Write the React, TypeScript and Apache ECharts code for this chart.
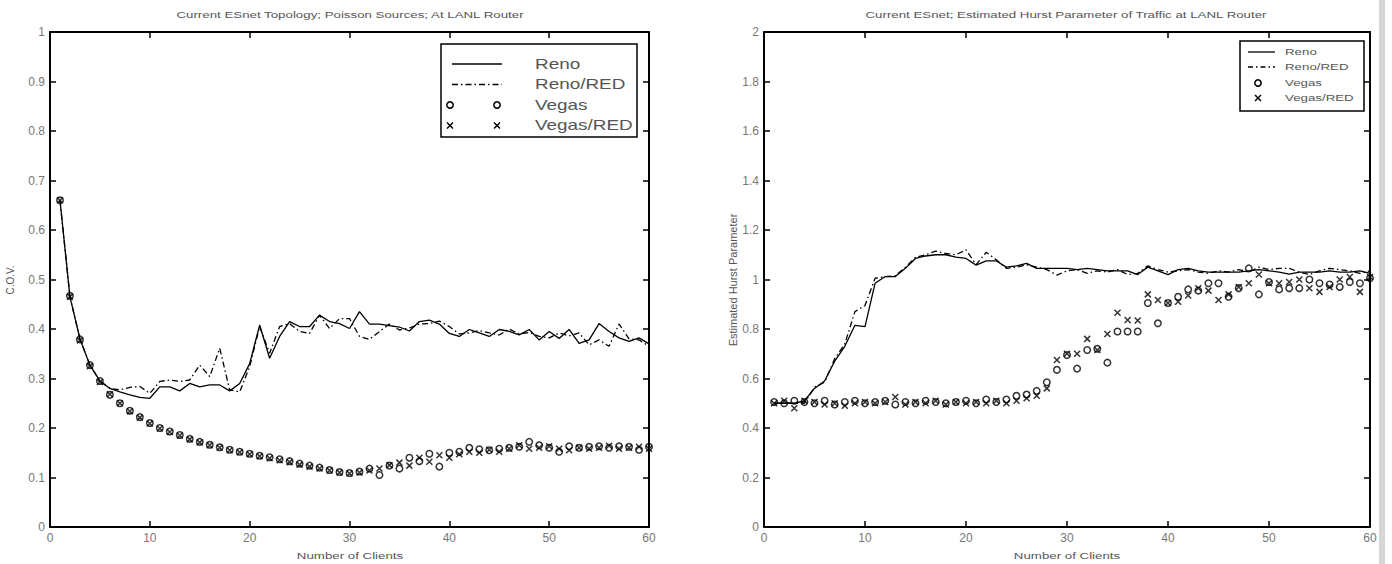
import React, { useEffect, useRef } from 'react';
import * as echarts from 'echarts';

const clients = [1, 2, 3, 4, 5, 6, 7, 8, 9, 10, 11, 12, 13, 14, 15, 16, 17, 18, 19, 20, 21, 22, 23, 24, 25, 26, 27, 28, 29, 30, 31, 32, 33, 34, 35, 36, 37, 38, 39, 40, 41, 42, 43, 44, 45, 46, 47, 48, 49, 50, 51, 52, 53, 54, 55, 56, 57, 58, 59, 60];

// Left chart: C.O.V.
const covReno = [0.66, 0.465, 0.38, 0.327, 0.295, 0.28, 0.273, 0.267, 0.262, 0.26, 0.283, 0.283, 0.275, 0.29, 0.283, 0.287, 0.287, 0.275, 0.29, 0.33, 0.408, 0.341, 0.385, 0.415, 0.405, 0.405, 0.428, 0.415, 0.411, 0.401, 0.435, 0.41, 0.41, 0.407, 0.404, 0.396, 0.415, 0.418, 0.41, 0.391, 0.385, 0.399, 0.392, 0.385, 0.399, 0.395, 0.388, 0.399, 0.378, 0.395, 0.381, 0.399, 0.371, 0.378, 0.411, 0.395, 0.382, 0.375, 0.382, 0.37];
const covRenoRed = [0.66, 0.465, 0.38, 0.327, 0.295, 0.28, 0.277, 0.282, 0.284, 0.27, 0.294, 0.297, 0.294, 0.297, 0.327, 0.304, 0.361, 0.277, 0.273, 0.324, 0.405, 0.351, 0.405, 0.411, 0.395, 0.391, 0.428, 0.401, 0.421, 0.421, 0.385, 0.379, 0.395, 0.41, 0.398, 0.402, 0.41, 0.411, 0.416, 0.405, 0.39, 0.392, 0.397, 0.392, 0.388, 0.4, 0.39, 0.393, 0.385, 0.382, 0.392, 0.386, 0.392, 0.368, 0.378, 0.365, 0.41, 0.38, 0.378, 0.365];
const covVegas = [0.66, 0.467, 0.379, 0.327, 0.295, 0.267, 0.25, 0.235, 0.222, 0.21, 0.2, 0.193, 0.186, 0.178, 0.172, 0.166, 0.161, 0.156, 0.152, 0.148, 0.144, 0.141, 0.137, 0.133, 0.128, 0.124, 0.12, 0.115, 0.111, 0.109, 0.112, 0.118, 0.105, 0.124, 0.118, 0.14, 0.133, 0.148, 0.122, 0.15, 0.152, 0.16, 0.157, 0.155, 0.158, 0.16, 0.162, 0.172, 0.165, 0.16, 0.152, 0.163, 0.16, 0.162, 0.163, 0.16, 0.163, 0.162, 0.156, 0.162];
const covVegasRed = [0.66, 0.465, 0.377, 0.325, 0.293, 0.268, 0.25, 0.234, 0.221, 0.209, 0.199, 0.192, 0.185, 0.177, 0.171, 0.165, 0.16, 0.155, 0.151, 0.147, 0.143, 0.139, 0.135, 0.131, 0.126, 0.122, 0.118, 0.114, 0.11, 0.108, 0.11, 0.114, 0.118, 0.125, 0.13, 0.124, 0.14, 0.132, 0.145, 0.14, 0.147, 0.152, 0.15, 0.156, 0.152, 0.158, 0.165, 0.158, 0.16, 0.163, 0.158, 0.155, 0.16, 0.158, 0.16, 0.164, 0.158, 0.16, 0.162, 0.158];

// Right chart: Estimated Hurst parameter
const hurstReno = [0.5, 0.5, 0.5, 0.51, 0.56, 0.59, 0.67, 0.73, 0.815, 0.81, 0.985, 1.012, 1.012, 1.045, 1.085, 1.095, 1.1, 1.1, 1.09, 1.085, 1.058, 1.075, 1.075, 1.05, 1.055, 1.065, 1.045, 1.045, 1.045, 1.045, 1.04, 1.045, 1.04, 1.035, 1.035, 1.035, 1.02, 1.05, 1.035, 1.02, 1.04, 1.045, 1.035, 1.03, 1.03, 1.03, 1.03, 1.035, 1.04, 1.035, 1.03, 1.022, 1.03, 1.03, 1.03, 1.035, 1.03, 1.03, 1.035, 1.025];
const hurstRenoRed = [0.5, 0.5, 0.5, 0.5, 0.565, 0.585, 0.68, 0.74, 0.87, 0.895, 1.005, 1.012, 1.015, 1.05, 1.09, 1.1, 1.115, 1.105, 1.1, 1.12, 1.06, 1.11, 1.08, 1.045, 1.05, 1.06, 1.05, 1.04, 1.018, 1.035, 1.04, 1.025, 1.035, 1.03, 1.04, 1.02, 1.025, 1.055, 1.04, 1.03, 1.035, 1.04, 1.03, 1.025, 1.035, 1.03, 1.04, 1.03, 1.05, 1.04, 1.045, 1.045, 1.03, 1.02, 1.035, 1.045, 1.04, 1.035, 1.025, 1.035];
const hurstVegas = [0.505, 0.5, 0.51, 0.505, 0.5, 0.51, 0.495, 0.505, 0.51, 0.5, 0.505, 0.51, 0.495, 0.505, 0.5, 0.51, 0.505, 0.5, 0.505, 0.51, 0.5, 0.515, 0.505, 0.515, 0.53, 0.535, 0.55, 0.585, 0.635, 0.695, 0.64, 0.715, 0.72, 0.664, 0.79, 0.79, 0.79, 0.905, 0.823, 0.905, 0.93, 0.96, 0.955, 0.985, 0.985, 0.93, 0.965, 1.045, 0.94, 0.99, 0.96, 0.965, 0.965, 1.0, 0.985, 0.98, 0.97, 0.99, 0.985, 1.005];
const hurstVegasRed = [0.5, 0.51, 0.48, 0.51, 0.505, 0.495, 0.5, 0.49, 0.5, 0.505, 0.5, 0.505, 0.525, 0.495, 0.505, 0.5, 0.51, 0.495, 0.505, 0.5, 0.505, 0.5, 0.51, 0.5, 0.51, 0.52, 0.53, 0.56, 0.675, 0.7, 0.7, 0.76, 0.715, 0.78, 0.866, 0.836, 0.834, 0.94, 0.917, 0.905, 0.91, 0.935, 0.965, 0.955, 0.917, 0.94, 0.97, 0.985, 1.02, 0.985, 0.985, 0.99, 1.0, 0.965, 0.95, 0.97, 1.0, 1.01, 0.95, 1.01];

const seriesNames = ['Reno', 'Reno/RED', 'Vegas', 'Vegas/RED'];
const leftTitle = 'Current ESnet Topology; Poisson Sources; At LANL Router';
const rightTitle = 'Current ESnet; Estimated Hurst Parameter of Traffic at LANL Router';
const xName = 'Number of Clients';
const leftYName = 'C.O.V.';
const rightYName = 'Estimated Hurst Parameter';

const FONT = '"Liberation Sans", Arial, Helvetica, sans-serif';
const TXT = '#555';
const XMARK = 'path://M0,0L10,10M10,0L0,10';

function pairs(vals: number[]) {
  return vals.map((v, i) => [clients[i], v]);
}

function txt(text: string, x: number, y: number, size: number, opts: any = {}) {
  return {
    type: 'text',
    x,
    y,
    z: 101,
    rotation: opts.rotation || 0,
    scaleX: opts.scaleX || 1,
    scaleY: opts.scaleY || 1,
    style: {
      text,
      fontSize: size,
      fontFamily: FONT,
      fill: TXT,
      align: opts.align || 'center',
      verticalAlign: 'middle',
      textAlign: opts.align || 'center',
      textVerticalAlign: 'middle',
    },
  };
}

function seg(x1: number, y1: number, x2: number, y2: number, dash?: number[], w = 1.3) {
  return {
    type: 'line',
    z: 101,
    shape: { x1, y1, x2, y2 },
    style: { stroke: '#000', lineWidth: w, lineDash: dash || null },
  };
}

function circ(cx: number, cy: number) {
  return {
    type: 'circle',
    z: 101,
    shape: { cx, cy, r: 3.2 },
    style: { fill: 'none', stroke: '#000', lineWidth: 1.5 },
  };
}

function xm(cx: number, cy: number) {
  return [seg(cx - 3, cy - 3, cx + 3, cy + 3, undefined, 1.5), seg(cx + 3, cy - 3, cx - 3, cy + 3, undefined, 1.5)];
}

export default function App() {
  const ref = useRef<HTMLDivElement>(null);
  useEffect(() => {
    if (!ref.current) return;
    const chart = echarts.init(ref.current, null, { renderer: 'svg' });
    const fmt = (v: number) => String(parseFloat(Number(v).toFixed(1)));
    const line = { show: true, onZero: false, lineStyle: { color: '#000', width: 2 } };
    const tick = { show: true, inside: true, length: 6, lineStyle: { color: '#000', width: 1.5 } };
    const label = { show: true, color: '#777', fontSize: 12, fontFamily: FONT, margin: 5, formatter: fmt };
    const xAx = (grid: number, pos: string, lab: boolean) => ({
      type: 'value', gridIndex: grid, position: pos, min: 0, max: 60, interval: 10,
      axisLine: line, axisTick: tick, splitLine: { show: false },
      axisLabel: lab ? label : { show: false },
    });
    const yAx = (grid: number, pos: string, lab: boolean, max: number, interval: number) => ({
      type: 'value', gridIndex: grid, position: pos, min: 0, max, interval,
      axisLine: line, axisTick: tick, splitLine: { show: false },
      axisLabel: lab ? label : { show: false },
    });
    const mk = (xi: number, yi: number, vals: number[][]) => [
      { type: 'line', name: seriesNames[0], xAxisIndex: xi, yAxisIndex: yi, data: pairs(vals[0]), symbol: 'none', showSymbol: false, lineStyle: { color: '#000', width: 1.3 }, z: 3 },
      { type: 'line', name: seriesNames[1], xAxisIndex: xi, yAxisIndex: yi, data: pairs(vals[1]), symbol: 'none', showSymbol: false, lineStyle: { color: '#000', width: 1.3, type: [6, 3, 1.5, 3] }, z: 3 },
      { type: 'scatter', name: seriesNames[2], xAxisIndex: xi, yAxisIndex: yi, data: pairs(vals[2]), symbol: 'circle', symbolSize: 6.5, itemStyle: { color: 'rgba(0,0,0,0)', borderColor: '#000', borderWidth: 1.5 }, z: 4 },
      { type: 'scatter', name: seriesNames[3], xAxisIndex: xi, yAxisIndex: yi, data: pairs(vals[3]), symbol: XMARK, symbolSize: 6, itemStyle: { color: 'rgba(0,0,0,0)', borderColor: '#000', borderWidth: 1.5 }, z: 4 },
    ];

    const graphics: any[] = [
      txt(leftTitle, 350, 15, 9.5, { scaleX: 1.4 }),
      txt(rightTitle, 1066, 15, 9.5, { scaleX: 1.4 }),
      txt(xName, 350, 556, 9.5, { scaleX: 1.4 }),
      txt(xName, 1067, 556, 9.5, { scaleX: 1.4 }),
      txt(leftYName, 10, 280, 10, { rotation: Math.PI / 2 }),
      txt(rightYName, 733, 280, 11, { rotation: Math.PI / 2 }),
      // left legend
      { type: 'rect', z: 100, shape: { x: 441, y: 44, width: 196, height: 93 }, style: { fill: '#fff', stroke: '#000', lineWidth: 1.5 } },
      seg(452, 64, 502, 64),
      seg(452, 84.5, 502, 84.5, [6, 3, 1.5, 3]),
      circ(450, 105), circ(497, 105),
      ...xm(450, 125.5), ...xm(497, 125.5),
      txt(seriesNames[0], 535, 64, 14, { scaleX: 1.35, align: 'left' }),
      txt(seriesNames[1], 535, 84.5, 14, { scaleX: 1.35, align: 'left' }),
      txt(seriesNames[2], 535, 105, 14, { scaleX: 1.35, align: 'left' }),
      txt(seriesNames[3], 535, 125.5, 14, { scaleX: 1.35, align: 'left' }),
      // right legend
      { type: 'rect', z: 100, shape: { x: 1240, y: 41, width: 124, height: 70 }, style: { fill: '#fff', stroke: '#000', lineWidth: 1.5 } },
      seg(1248, 52, 1275, 52),
      seg(1248, 67, 1275, 67, [5, 3, 1.5, 3]),
      circ(1258, 83),
      ...xm(1258, 98),
      txt(seriesNames[0], 1285, 52, 9.5, { scaleX: 1.4, align: 'left' }),
      txt(seriesNames[1], 1285, 67, 9.5, { scaleX: 1.4, align: 'left' }),
      txt(seriesNames[2], 1285, 83, 9.5, { scaleX: 1.4, align: 'left' }),
      txt(seriesNames[3], 1285, 98, 9.5, { scaleX: 1.4, align: 'left' }),
      // scan border at right edge
      { type: 'rect', z: 0, shape: { x: 1379, y: 0, width: 6, height: 564 }, style: { fill: '#d6d6d6' } },
    ];

    chart.setOption({
      animation: false,
      backgroundColor: '#fff',
      grid: [
        { left: 50, top: 32, width: 599, height: 495, show: false },
        { left: 764, top: 32, width: 606, height: 495, show: false },
      ],
      xAxis: [xAx(0, 'bottom', true), xAx(0, 'top', false), xAx(1, 'bottom', true), xAx(1, 'top', false)],
      yAxis: [yAx(0, 'left', true, 1, 0.1), yAx(0, 'right', false, 1, 0.1), yAx(1, 'left', true, 2, 0.2), yAx(1, 'right', false, 2, 0.2)],
      series: [
        ...mk(0, 0, [covReno, covRenoRed, covVegas, covVegasRed]),
        ...mk(2, 2, [hurstReno, hurstRenoRed, hurstVegas, hurstVegasRed]),
      ],
      graphic: graphics,
    });
    return () => chart.dispose();
  }, []);
  return (
    <div
      ref={ref}
      style={{ position: 'fixed', left: 0, top: 0, width: 1392, height: 564, background: '#fff' }}
    />
  );
}
